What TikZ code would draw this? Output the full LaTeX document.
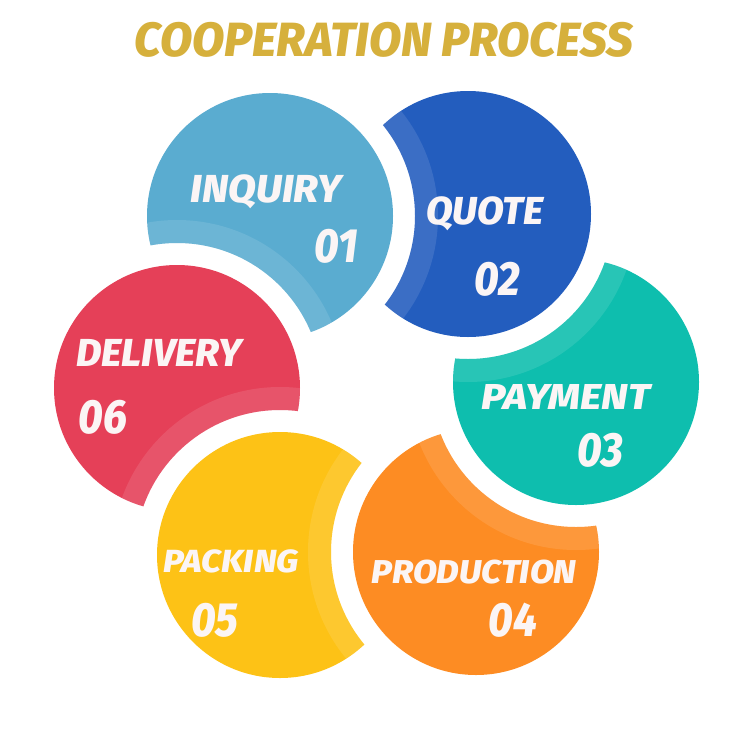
\documentclass[tikz,border=0pt]{standalone}
\usepackage{fontspec}
\setmainfont{Fira Sans}
\newfontface\heavy{Fira Sans ExtraBold Italic}
\definecolor{cInq}{HTML}{5AACD0}
\definecolor{cQuo}{HTML}{235DBE}
\definecolor{cPay}{HTML}{0EBEAE}
\definecolor{cPro}{HTML}{FD8C23}
\definecolor{cPac}{HTML}{FDC216}
\definecolor{cDel}{HTML}{E54058}
\definecolor{gold}{HTML}{D6B03C}
\definecolor{txt}{HTML}{FBF5F5}
\newcommand\petal[3]{%
  \begin{scope}[even odd rule]
    \clip (-10,-10) rectangle (760,760) (#2) circle[radius=145pt];
    \fill[#3] (#1) circle[radius=123pt];
    \clip (#1) circle[radius=123pt];
    \fill[white, opacity=0.11] (#2) circle[radius=168pt];
  \end{scope}}
\tikzset{
  lbl/.style={text=txt, inner sep=0pt, font=\heavy\fontsize{#1}{#1}\selectfont},
  num/.style={text=txt, inner sep=0pt, xscale=0.88, font=\heavy\fontsize{48}{48}\selectfont},
  ttl/.style={text=gold, inner sep=0pt, font=\heavy\fontsize{48}{48}\selectfont}
}
\begin{document}
\begin{tikzpicture}[x=1pt,y=-1pt]
\useasboundingbox (0,0) rectangle (750,750);
\fill[white] (0,0) rectangle (750,750);
\coordinate (c1) at (270,216);
\coordinate (c2) at (468,214);
\coordinate (c3) at (576,382);
\coordinate (c4) at (476,552);
\coordinate (c5) at (280,555);
\coordinate (c6) at (177,388);
\petal{c1}{c6}{cInq}
\petal{c2}{c1}{cQuo}
\petal{c3}{c2}{cPay}
\petal{c4}{c3}{cPro}
\petal{c5}{c4}{cPac}
\petal{c6}{c5}{cDel}
\node[ttl, xscale=0.98] (title) at (384,40) {COOPERATION PROCESS};
\node[lbl=39, xscale=1.04] (t1) at (266,192) {INQUIRY};
\node[num] (n1) at (336,246) {01};
\node[lbl=39] (t2) at (485,214) {QUOTE};
\node[num] (n2) at (497,279) {02};
\node[lbl=36, xscale=1.14] (t3) at (566,397) {PAYMENT};
\node[num] (n3) at (600,450) {03};
\node[lbl=33, xscale=1.06] (t4) at (474,572) {PRODUCTION};
\node[num] (n4) at (513,620) {04};
\node[lbl=32, xscale=1.09] (t5) at (231,561) {PACKING};
\node[num] (n5) at (215,620) {05};
\node[lbl=39, xscale=1.01] (t6) at (159,353) {DELIVERY};
\node[num] (n6) at (103,417) {06};
\end{tikzpicture}
\end{document}
